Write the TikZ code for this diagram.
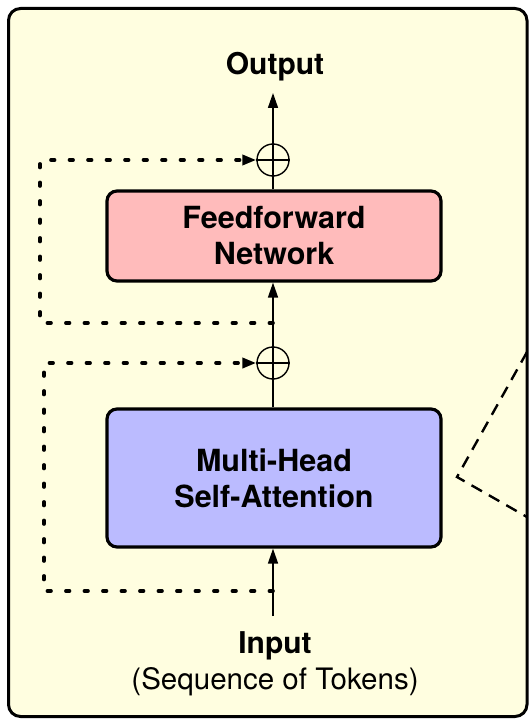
\documentclass[tikz,border=0pt]{standalone}
\usepackage{fontspec}
\setmainfont{TeX Gyre Heros}
\usetikzlibrary{arrows.meta}
\definecolor{panel}{HTML}{FFFEE0}
\definecolor{ffpink}{HTML}{FFBBBB}
\definecolor{attnblue}{HTML}{BBBBFF}
\begin{document}
\begin{tikzpicture}[x=1pt,y=-1pt,
  lbl/.style={font=\fontsize{30}{36}\selectfont, align=center, inner sep=0pt},
  block/.style={draw, line width=3.2pt, rounded corners=10pt, minimum width=334pt,
    font=\fontsize{30.5}{36}\selectfont\bfseries, align=center},
  addop/.style={circle, draw, line width=1.4pt, minimum size=32pt, inner sep=0pt},
  flow/.style={line width=1.6pt, -{Triangle[length=15pt, width=10pt]}},
  plain/.style={line width=1.6pt},
  skip/.style={line width=3.6pt, line cap=round, dash pattern=on 3.6pt off 14.9pt,
    -{Triangle[length=14pt, width=10pt, line cap=butt]}},
  zoomcue/.style={line width=2.4pt, dash pattern=on 12pt off 8pt}]
\useasboundingbox (0,0) rectangle (529,719);
% panel
\draw[line width=3pt, draw=black, fill=panel, rounded corners=12pt] (8.5,8.5) rectangle (527,716.5);

% blocks
\node[block, fill=ffpink, minimum height=90pt] (ffn) at (274,236) {Feedforward\\Network};
\node[block, fill=attnblue, minimum height=138pt] (mha) at (274,478) {Multi-Head\\Self-Attention};

% residual adders
\node[addop] (add2) at (273,160) {};
\node[addop] (add1) at (273,363) {};
\foreach \a in {add1,add2}{
  \draw[line width=1.4pt] (\a.north) -- (\a.south) (\a.west) -- (\a.east);
}

% labels
\node[lbl, font=\fontsize{30}{36}\selectfont\bfseries] (out) at (275,67) {Output};
\node[lbl, font=\fontsize{30}{36}\selectfont\bfseries] (inp) at (275,646) {Input};
\node[lbl, font=\fontsize{29.5}{36}\selectfont, anchor=north] (seq) at (275,667) {(Sequence of Tokens)};

% main flow
\coordinate (in) at (273,616);
\coordinate (outtip) at (273,93);
\draw[flow] (in) -- (in |- mha.south);
\draw[plain] (add1.south |- mha.north) -- (add1.south);
\draw[flow] (add1.north) -- (add1.north |- ffn.south);
\draw[plain] (add2.south |- ffn.north) -- (add2.south);
\draw[flow] (add2.north) -- (outtip);

% skip connections
\coordinate (r1) at (273,591);
\coordinate (r2) at (273,323);
\draw[skip] (r1) -- ++(-229,0) |- (add1.west);
\draw[skip] (r2) -- ++(-233,0) |- (add2.west);

% dashed cue on the right edge
\coordinate (c1) at (527,352);
\coordinate (c2) at (457,477);
\coordinate (c3) at (527,517);
\draw[zoomcue] (c1) -- (c2) -- (c3);
\end{tikzpicture}
\end{document}
